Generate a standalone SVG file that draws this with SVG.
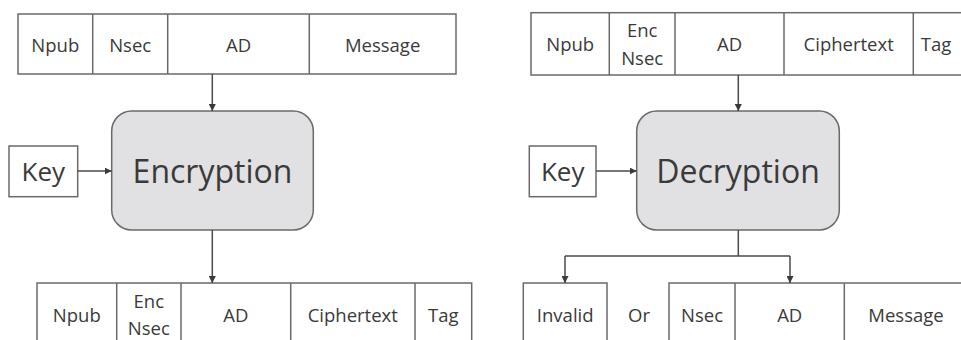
<svg xmlns="http://www.w3.org/2000/svg" width="961" height="340" viewBox="0 0 961 340">
  <style>
    .cell { fill: #ffffff; stroke: #6a6a6a; stroke-width: 1.5; }
    .div { stroke: #6a6a6a; stroke-width: 1.5; }
    .proc { fill: #e1e1e3; stroke: #6a6a6a; stroke-width: 1.5; }
    .lbl { font-family: "Open Sans", "Noto Sans", sans-serif; font-size: 18.5px; fill: #3a3a3a; text-anchor: middle; }
    .key { font-family: "Open Sans", "Noto Sans", sans-serif; font-size: 26px; fill: #3a3a3a; text-anchor: middle; }
    .big { font-family: "Open Sans", "Noto Sans", sans-serif; font-size: 32px; fill: #3a3a3a; text-anchor: middle; }
    .wire { fill: none; stroke: #4a4a4a; stroke-width: 1.5; }
  </style>
  <defs>
    <marker id="arrow" viewBox="0 0 10 10" refX="10" refY="5" markerWidth="7" markerHeight="7" markerUnits="userSpaceOnUse" orient="auto">
      <path d="M0,0 L10,5 L0,10 z" fill="#3a3a3a"/>
    </marker>
  </defs>

  <rect width="961" height="340" fill="#ffffff"/>

  <!-- encryption inputs -->
  <g id="enc-input">
    <rect class="cell" x="18" y="14" width="438" height="60"/>
    <line class="div" x1="92.7" y1="14" x2="92.7" y2="74"/>
    <line class="div" x1="167.7" y1="14" x2="167.7" y2="74"/>
    <line class="div" x1="309.3" y1="14" x2="309.3" y2="74"/>
    <text class="lbl" x="55.3" y="51.5">Npub</text>
    <text class="lbl" x="130.2" y="51.5">Nsec</text>
    <text class="lbl" x="238.5" y="51.5">AD</text>
    <text class="lbl" x="382.6" y="51.5">Message</text>
  </g>

  <g id="enc-key">
    <rect class="cell" x="9" y="146" width="68.7" height="50.7"/>
    <text class="key" x="43.3" y="181">Key</text>
  </g>

  <g id="encryption">
    <rect class="proc" x="111.7" y="111" width="201.6" height="119" rx="20" ry="20"/>
    <text class="big" x="212.5" y="182.5">Encryption</text>
  </g>

  <!-- encryption outputs -->
  <g id="enc-output">
    <rect class="cell" x="37" y="283" width="434.7" height="70"/>
    <line class="div" x1="116.7" y1="283" x2="116.7" y2="353"/>
    <line class="div" x1="181" y1="283" x2="181" y2="353"/>
    <line class="div" x1="290.7" y1="283" x2="290.7" y2="353"/>
    <line class="div" x1="415" y1="283" x2="415" y2="353"/>
    <text class="lbl" x="76.8" y="321.5">Npub</text>
    <text class="lbl" x="148.8" y="308">Enc</text>
    <text class="lbl" x="148.8" y="334.5">Nsec</text>
    <text class="lbl" x="235.8" y="321.5">AD</text>
    <text class="lbl" x="352.8" y="321.5">Ciphertext</text>
    <text class="lbl" x="443.3" y="321.5">Tag</text>
  </g>

  <!-- decryption inputs -->
  <g id="dec-input">
    <rect class="cell" x="531" y="12.7" width="440" height="62.3"/>
    <line class="div" x1="609.3" y1="12.7" x2="609.3" y2="75"/>
    <line class="div" x1="675" y1="12.7" x2="675" y2="75"/>
    <line class="div" x1="784" y1="12.7" x2="784" y2="75"/>
    <line class="div" x1="913.3" y1="12.7" x2="913.3" y2="75"/>
    <text class="lbl" x="570.2" y="50.5">Npub</text>
    <text class="lbl" x="642.2" y="37">Enc</text>
    <text class="lbl" x="642.2" y="64.5">Nsec</text>
    <text class="lbl" x="729.5" y="50.5">AD</text>
    <text class="lbl" x="848.7" y="50.5">Ciphertext</text>
    <text class="lbl" x="936" y="50.5">Tag</text>
  </g>

  <g id="dec-key">
    <rect class="cell" x="529.3" y="146" width="66.7" height="50.7"/>
    <text class="key" x="562.7" y="181">Key</text>
  </g>

  <g id="decryption">
    <rect class="proc" x="636.7" y="111" width="202.6" height="119" rx="20" ry="20"/>
    <text class="big" x="738" y="182.5">Decryption</text>
  </g>

  <!-- decryption outputs -->
  <g id="dec-invalid">
    <rect class="cell" x="523.3" y="283" width="83.7" height="70"/>
    <text class="lbl" x="565.2" y="321.5">Invalid</text>
  </g>

  <g id="dec-or">
    <text class="lbl" x="639" y="321.5">Or</text>
  </g>

  <g id="dec-output">
    <rect class="cell" x="669" y="283" width="302" height="70"/>
    <line class="div" x1="735" y1="283" x2="735" y2="353"/>
    <line class="div" x1="844.3" y1="283" x2="844.3" y2="353"/>
    <text class="lbl" x="702" y="321.5">Nsec</text>
    <text class="lbl" x="789.7" y="321.5">AD</text>
    <text class="lbl" x="906" y="321.5">Message</text>
  </g>

  <!-- connectors -->
  <g id="connectors">
    <line class="wire" x1="212.3" y1="74" x2="212.3" y2="111" marker-end="url(#arrow)"/>
    <line class="wire" x1="77.7" y1="171" x2="111.7" y2="171" marker-end="url(#arrow)"/>
    <line class="wire" x1="212.3" y1="230" x2="212.3" y2="283" marker-end="url(#arrow)"/>
    <line class="wire" x1="738.3" y1="75" x2="738.3" y2="111" marker-end="url(#arrow)"/>
    <line class="wire" x1="596" y1="171" x2="636.7" y2="171" marker-end="url(#arrow)"/>
    <!-- split from decryption to both outcomes -->
    <line class="wire" x1="738.3" y1="230" x2="738.3" y2="256"/>
    <line class="wire" x1="565" y1="256" x2="790" y2="256"/>
    <line class="wire" x1="565" y1="256" x2="565" y2="283" marker-end="url(#arrow)"/>
    <line class="wire" x1="790" y1="256" x2="790" y2="283" marker-end="url(#arrow)"/>
  </g>
</svg>
